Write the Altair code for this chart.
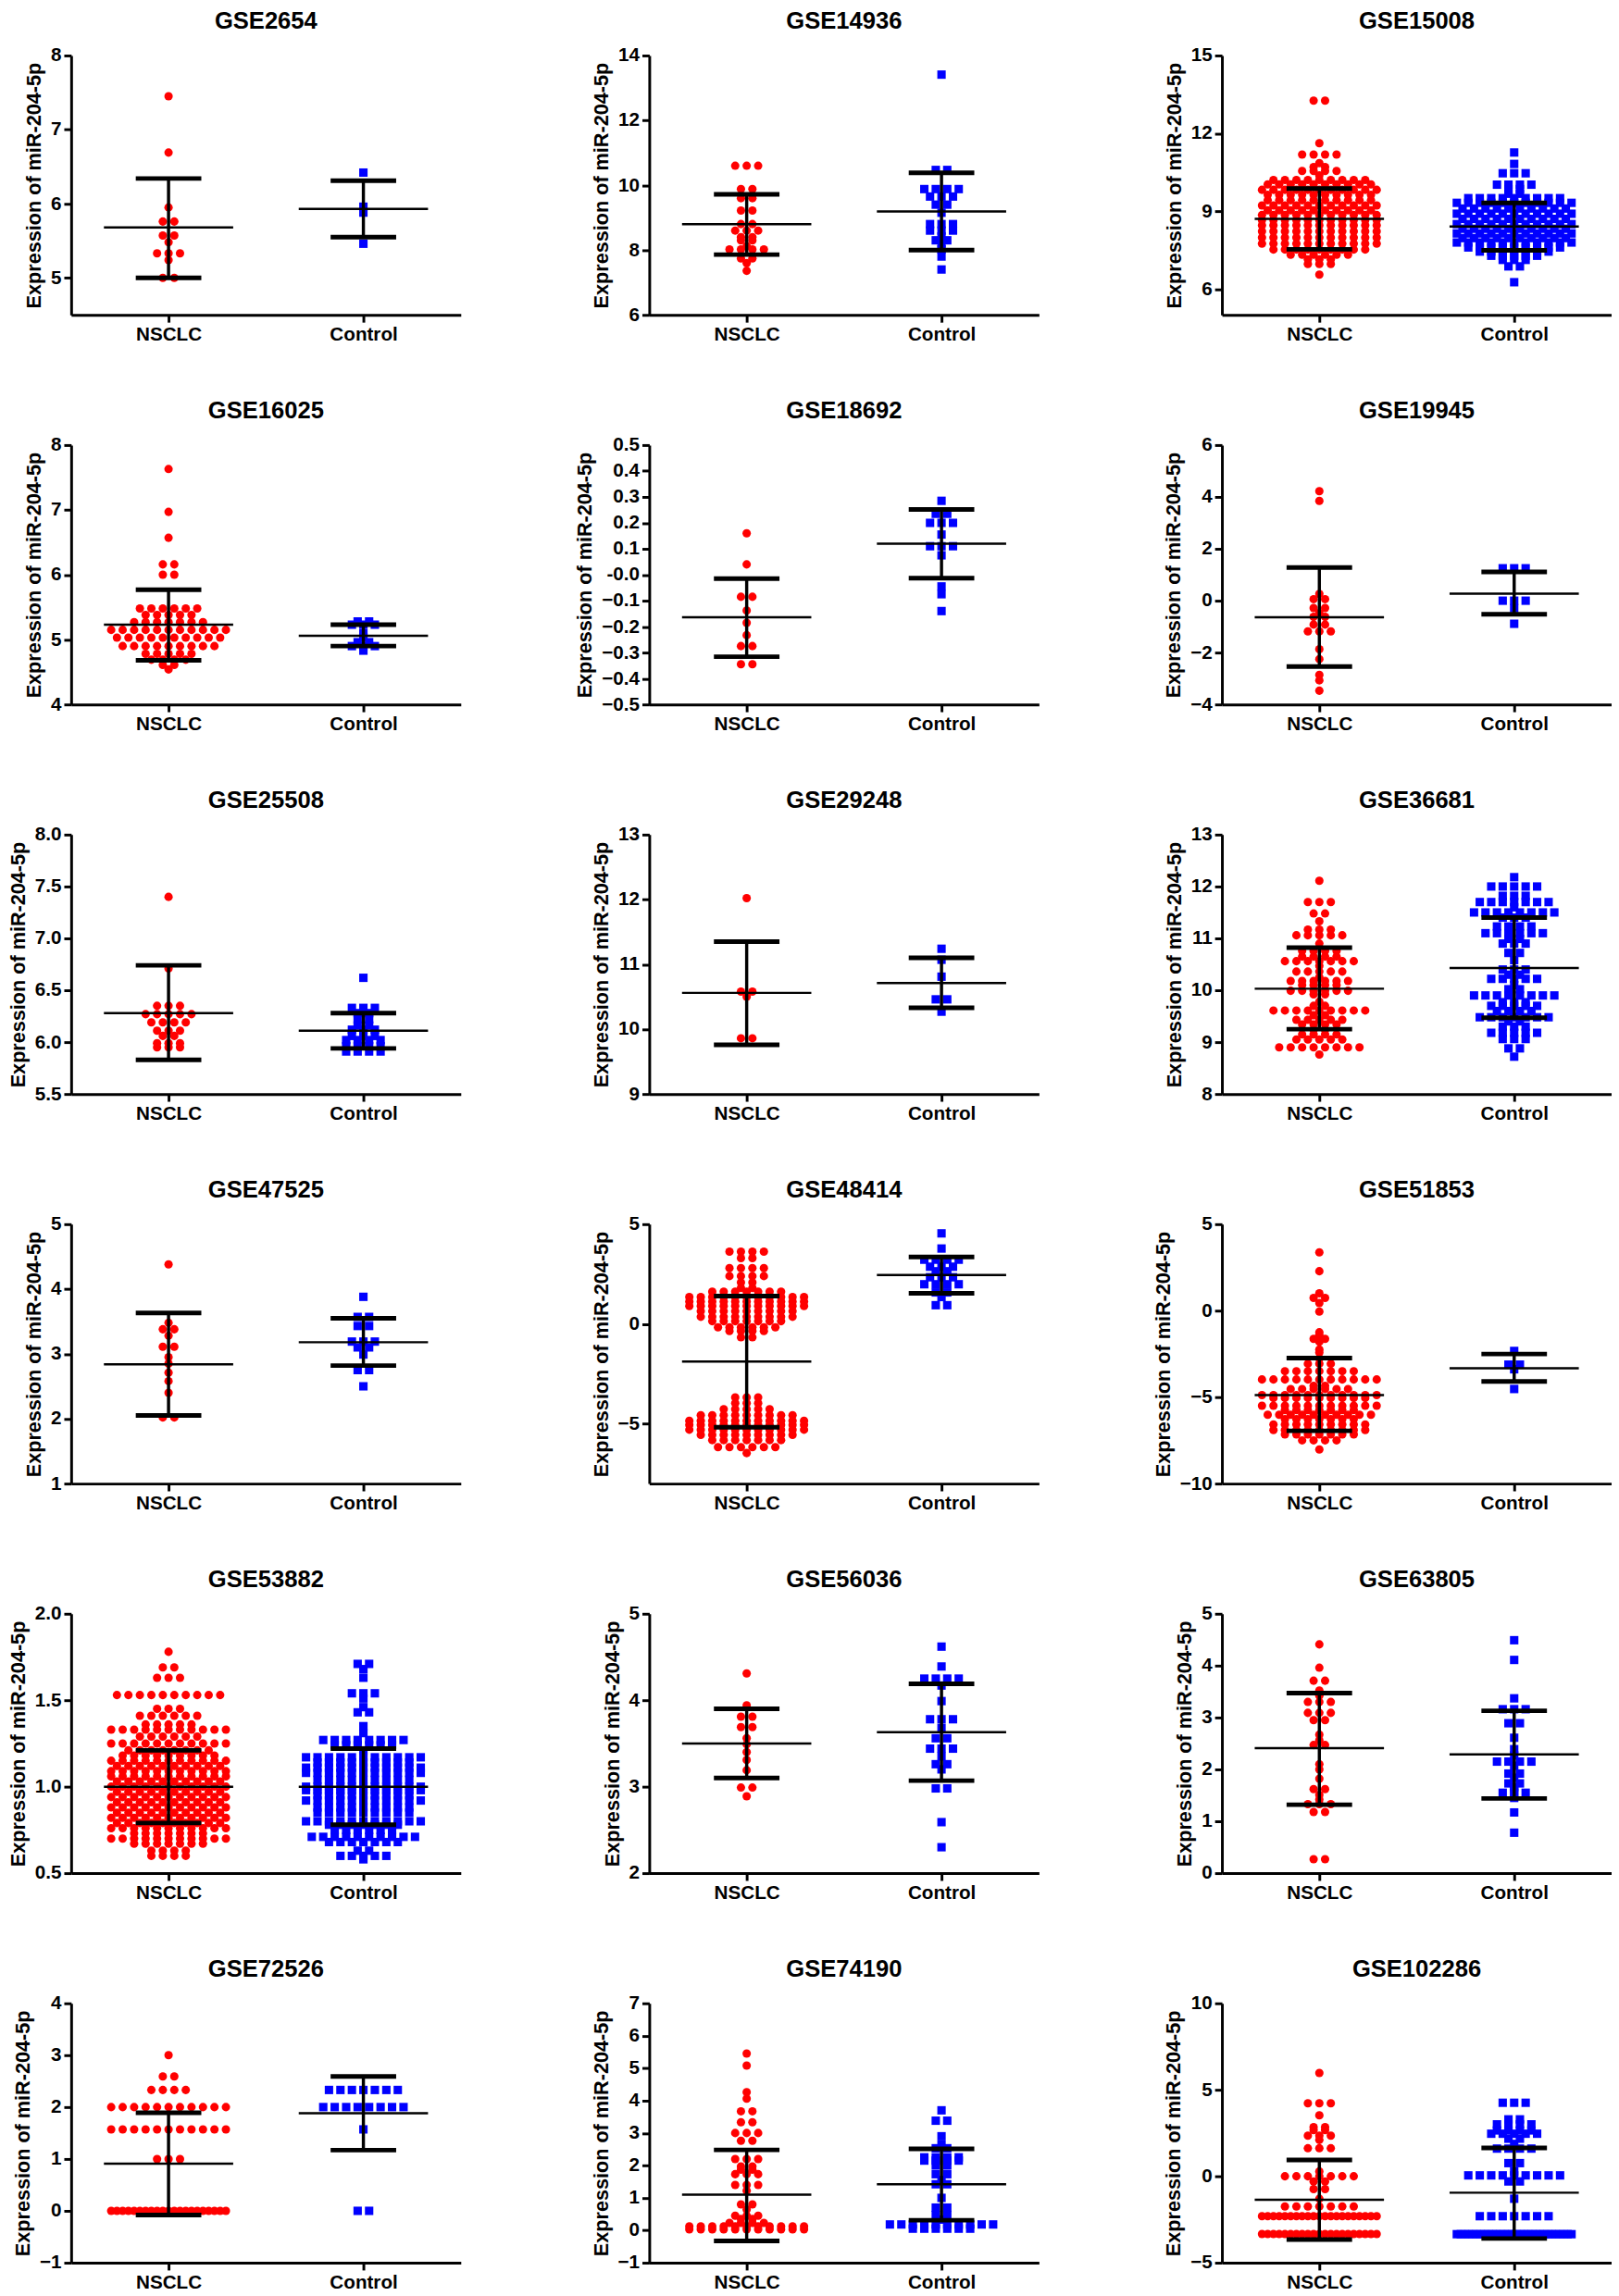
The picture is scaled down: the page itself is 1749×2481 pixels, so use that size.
import altair as alt
import pandas as pd

FONT = "Liberation Sans, Arial, Helvetica, sans-serif"
GROUPS = ["NSCLC", "Control"]
COLORS = ["#ff0000", "#0000ff"]
SHAPES = ["circle", "square"]
Y_TITLE = "Expression of miR-204-5p"

DATASETS = ["GSE2654", "GSE14936", "GSE15008", "GSE16025", "GSE18692", "GSE19945",
            "GSE25508", "GSE29248", "GSE36681", "GSE47525", "GSE48414", "GSE51853",
            "GSE53882", "GSE56036", "GSE63805", "GSE72526", "GSE74190", "GSE102286"]

# ---- sample values: each level (row of the dot plot) and how many samples sit at it ----
GSE2654_NSCLC_VAL = [7.45, 6.69, 5.95, 5.76, 5.57, 5.48, 5.33, 5.24, 5.0]
GSE2654_NSCLC_N = [1, 1, 1, 2, 2, 1, 3, 1, 2]
GSE2654_CTRL_VAL = [6.42, 5.96, 5.88, 5.46]
GSE2654_CTRL_N = [1, 1, 1, 1]

GSE14936_NSCLC_VAL = [10.6, 9.88, 9.6, 9.22, 8.8, 8.6, 8.4, 8.3, 8.12, 8.02, 7.74, 7.6, 7.36]
GSE14936_NSCLC_N = [3, 2, 2, 2, 2, 3, 2, 2, 1, 4, 2, 1, 1]
GSE14936_CTRL_VAL = [13.41, 10.47, 9.88, 9.65, 9.4, 9.15, 8.8, 8.6, 8.42, 8.3, 8.2, 8.02, 7.8, 7.4]
GSE14936_CTRL_N = [1, 2, 4, 3, 2, 1, 3, 3, 1, 2, 1, 1, 1, 1]

GSE15008_NSCLC_VAL = [13.26, 11.62, 11.18, 10.85, 10.7, 10.55, 10.38, 10.2, 10.03, 9.82, 9.63, 9.42,
                      9.22, 9.03, 8.85, 8.66, 8.45, 8.22, 7.98, 7.75, 7.52, 7.32, 7.14, 6.96, 6.55]
GSE15008_NSCLC_N = [2, 1, 4, 1, 2, 4, 1, 9, 10, 11, 10, 10, 11, 10, 11, 11, 11, 11, 11, 11, 9, 6, 3, 3, 1]
GSE15008_CTRL_VAL = [11.26, 10.82, 10.46, 10.02, 9.85, 9.67, 9.5, 9.32, 9.1, 8.9, 8.7, 8.5, 8.32, 8.14,
                     7.96, 7.79, 7.6, 7.44, 7.28, 7.12, 6.87, 6.26]
GSE15008_CTRL_N = [1, 1, 3, 4, 2, 2, 9, 11, 10, 11, 10, 11, 10, 11, 10, 11, 9, 7, 5, 3, 2, 1]

GSE16025_NSCLC_VAL = [7.63, 6.97, 6.57, 6.16, 6.0, 5.48, 5.38, 5.27, 5.15, 5.03, 4.9, 4.78, 4.69, 4.61, 4.54]
GSE16025_NSCLC_N = [1, 1, 1, 2, 2, 6, 5, 7, 11, 10, 9, 5, 4, 2, 1]
GSE16025_CTRL_VAL = [5.28, 5.23, 5.1, 5.04, 4.96, 4.9, 4.83]
GSE16025_CTRL_N = [2, 3, 1, 1, 2, 3, 1]

GSE18692_NSCLC_VAL = [0.16, 0.04, -0.085, -0.138, -0.185, -0.233, -0.275, -0.345]
GSE18692_NSCLC_N = [1, 1, 2, 1, 1, 1, 2, 2]
GSE18692_CTRL_VAL = [0.285, 0.235, 0.2, 0.155, 0.11, 0.075, -0.045, -0.075, -0.14]
GSE18692_CTRL_N = [1, 2, 3, 1, 3, 1, 1, 1, 1]

GSE19945_NSCLC_VAL = [4.22, 3.85, 0.26, 0.06, -0.28, -0.48, -0.62, -0.92, -1.18, -1.87, -2.25, -2.86, -3.07, -3.47]
GSE19945_NSCLC_N = [1, 1, 1, 2, 2, 1, 2, 2, 3, 1, 1, 1, 1, 1]
GSE19945_CTRL_VAL = [1.25, 0.0, -0.29, -0.89]
GSE19945_CTRL_N = [3, 3, 1, 1]

GSE25508_NSCLC_VAL = [7.4, 6.71, 6.35, 6.27, 6.19, 6.11, 6.06, 5.99, 5.95]
GSE25508_NSCLC_N = [1, 1, 3, 5, 4, 3, 2, 3, 3]
GSE25508_CTRL_VAL = [6.62, 6.33, 6.28, 6.22, 6.16, 6.12, 6.06, 6.02, 5.96, 5.91]
GSE25508_CTRL_N = [1, 3, 2, 2, 2, 3, 3, 4, 4, 4]

GSE29248_NSCLC_VAL = [12.02, 10.58, 10.5, 9.86]
GSE29248_NSCLC_N = [1, 2, 1, 2]
GSE29248_CTRL_VAL = [11.24, 11.07, 10.81, 10.46, 10.27]
GSE29248_CTRL_N = [1, 1, 1, 2, 1]

GSE36681_NSCLC_VAL = [12.11, 11.7, 11.48, 11.33, 11.17, 11.06, 10.9, 10.76, 10.65, 10.56, 10.47, 10.36,
                      10.25, 10.18, 10.1, 9.99, 9.92, 9.78, 9.7, 9.61, 9.52, 9.43, 9.34, 9.24, 9.15,
                      9.05, 8.9, 8.76]
GSE36681_NSCLC_N = [1, 3, 2, 1, 3, 5, 1, 4, 4, 7, 1, 5, 1, 6, 4, 6, 2, 1, 2, 9, 2, 5, 4, 2, 4, 5, 8, 1]
GSE36681_CTRL_VAL = [12.18, 12.0, 11.82, 11.7, 11.6, 11.5, 11.4, 11.23, 11.1, 10.99, 10.9, 10.72, 10.58,
                     10.4, 10.3, 10.22, 10.1, 10.02, 9.9, 9.77, 9.7, 9.6, 9.48, 9.4, 9.3, 9.18, 9.06,
                     8.88, 8.72]
GSE36681_CTRL_N = [1, 5, 3, 7, 1, 8, 3, 4, 6, 2, 3, 2, 1, 3, 2, 5, 1, 2, 8, 3, 5, 4, 7, 2, 3, 5, 3, 2, 1]

GSE47525_NSCLC_VAL = [4.38, 3.48, 3.38, 3.28, 3.11, 2.95, 2.85, 2.71, 2.58, 2.4, 2.02]
GSE47525_NSCLC_N = [1, 1, 2, 1, 2, 1, 1, 1, 1, 1, 2]
GSE47525_CTRL_VAL = [3.88, 3.57, 3.43, 3.19, 3.1, 2.99, 2.75, 2.5]
GSE47525_CTRL_N = [1, 2, 2, 3, 2, 1, 2, 1]

GSE48414_NSCLC_VAL = [3.62, 3.3, 2.8, 2.4, 2.08, 1.8, 1.62, 1.35, 1.12, 0.9, 0.64, 0.36, 0.14, -0.17,
                      -0.35, -0.67, -3.68, -3.97, -4.27, -4.57, -4.85, -5.06, -5.3, -5.56, -5.82,
                      -6.17, -6.47]
GSE48414_NSCLC_N = [4, 2, 4, 4, 2, 2, 7, 11, 11, 11, 9, 9, 7, 6, 4, 2, 3, 3, 5, 9, 11, 11, 11, 9, 7, 6, 1]
GSE48414_CTRL_VAL = [4.54, 3.78, 3.22, 2.87, 2.64, 2.34, 1.99, 1.58, 1.35, 0.94]
GSE48414_CTRL_N = [1, 1, 4, 3, 2, 3, 4, 2, 1, 2]

GSE51853_NSCLC_VAL = [3.37, 2.28, 1.0, 0.74, 0.44, -0.05, -1.25, -1.4, -1.63, -1.8, -2.25, -2.42, -2.77,
                      -3.07, -3.5, -3.98, -4.35, -4.53, -4.88, -5.05, -5.5, -5.75, -6.02, -6.28,
                      -6.58, -6.9, -7.16, -7.5, -8.03]
GSE51853_NSCLC_N = [1, 1, 1, 2, 1, 1, 1, 1, 2, 1, 1, 1, 1, 3, 7, 11, 2, 6, 11, 9, 11, 7, 10, 7, 9, 9, 7, 4, 1]
GSE51853_CTRL_VAL = [-2.33, -3.12, -3.39, -4.53]
GSE51853_CTRL_N = [1, 2, 1, 1]

GSE53882_NSCLC_VAL = [1.78, 1.69, 1.63, 1.53, 1.45, 1.41, 1.36, 1.33, 1.29, 1.25, 1.21, 1.18, 1.15, 1.12,
                      1.09, 1.06, 1.03, 1.0, 0.97, 0.94, 0.91, 0.88, 0.85, 0.82, 0.79, 0.76, 0.73,
                      0.7, 0.67, 0.63, 0.6]
GSE53882_NSCLC_N = [1, 2, 3, 10, 3, 6, 5, 11, 6, 11, 8, 9, 11, 10, 11, 11, 10, 11, 10, 11, 10, 11, 10,
                    11, 10, 11, 7, 11, 7, 4, 4]
GSE53882_CTRL_VAL = [1.71, 1.68, 1.63, 1.54, 1.51, 1.46, 1.43, 1.35, 1.31, 1.27, 1.24, 1.21, 1.17, 1.14,
                     1.11, 1.08, 1.04, 1.0, 0.98, 0.95, 0.92, 0.88, 0.85, 0.8, 0.78, 0.75, 0.71, 0.68,
                     0.63, 0.6, 0.58]
GSE53882_CTRL_N = [2, 1, 1, 3, 1, 1, 2, 1, 1, 8, 6, 1, 11, 9, 11, 11, 9, 11, 11, 9, 11, 9, 9, 11, 7, 6,
                   10, 7, 2, 5, 1]

GSE56036_NSCLC_VAL = [4.31, 3.94, 3.81, 3.69, 3.56, 3.49, 3.4, 3.31, 3.19, 2.99, 2.89]
GSE56036_NSCLC_N = [1, 1, 2, 2, 1, 1, 1, 1, 1, 2, 1]
GSE56036_CTRL_VAL = [4.62, 4.39, 4.25, 4.17, 3.99, 3.78, 3.68, 3.56, 3.44, 3.35, 3.26, 3.2, 2.98, 2.59, 2.3]
GSE56036_CTRL_N = [1, 1, 4, 1, 1, 3, 1, 2, 3, 1, 2, 1, 2, 1, 1]

GSE63805_NSCLC_VAL = [4.41, 3.96, 3.71, 3.52, 3.42, 3.3, 3.09, 2.95, 2.67, 2.56, 2.47, 2.1, 2.0, 1.82,
                      1.62, 1.51, 1.42, 1.33, 1.18, 0.27]
GSE63805_NSCLC_N = [1, 1, 2, 1, 1, 3, 3, 2, 1, 1, 2, 1, 1, 1, 2, 1, 1, 3, 2, 2]
GSE63805_CTRL_VAL = [4.49, 4.11, 3.37, 3.16, 2.89, 2.61, 2.39, 2.27, 2.15, 2.07, 1.92, 1.84, 1.73, 1.66,
                     1.61, 1.55, 1.45, 1.17, 0.78]
GSE63805_CTRL_N = [1, 1, 1, 3, 2, 1, 1, 1, 4, 1, 2, 1, 2, 1, 1, 3, 1, 1, 1]

GSE72526_NSCLC_VAL = [3.0, 2.59, 2.33, 2.0, 1.57, 1.0, 0.0]
GSE72526_NSCLC_N = [1, 2, 4, 11, 11, 3, 21]
GSE72526_CTRL_VAL = [2.33, 2.0, 1.57, 0.0]
GSE72526_CTRL_N = [7, 8, 1, 2]

GSE74190_NSCLC_VAL = [5.45, 5.08, 4.26, 4.06, 3.67, 3.33, 3.0, 2.76, 2.2, 1.97, 1.87, 1.73, 1.4, 1.22,
                      0.8, 0.64, 0.45, 0.35, 0.23, 0.12, 0.03]
GSE74190_NSCLC_N = [1, 1, 1, 1, 2, 2, 3, 2, 3, 2, 2, 3, 3, 1, 2, 1, 3, 2, 4, 11, 11]
GSE74190_CTRL_VAL = [3.7, 3.38, 2.9, 2.64, 2.53, 2.25, 2.15, 2.0, 1.73, 1.55, 1.42, 1.0, 0.7, 0.47, 0.33,
                     0.18, 0.05]
GSE74190_CTRL_N = [1, 2, 1, 1, 2, 4, 4, 2, 2, 1, 2, 1, 2, 2, 1, 10, 6]

GSE102286_NSCLC_VAL = [5.97, 4.22, 3.52, 2.84, 2.67, 2.35, 2.1, 1.62, 0.28, 0.0, -0.3, -0.74, -1.3,
                       -1.75, -2.31, -3.34]
GSE102286_NSCLC_N = [1, 3, 1, 2, 2, 3, 1, 3, 1, 7, 2, 2, 1, 7, 21, 21]
GSE102286_CTRL_VAL = [4.25, 3.29, 3.0, 2.65, 2.46, 2.17, 1.87, 1.6, 0.76, 0.28, 0.05, -0.3, -1.3, -2.31, -3.35]
GSE102286_CTRL_N = [3, 2, 4, 4, 5, 2, 1, 4, 2, 1, 9, 2, 1, 7, 30]

# ---- mean and mean -/+ SD ----
NSCLC_MEAN = [5.68, 8.8, 8.7, 5.23, -0.164, -0.64, 6.28, 10.56, 10.03, 2.84, -1.88, -4.88, 1.0, 3.5, 2.41, 0.91, 1.1, -1.36]
NSCLC_SD_LOW = [5.0, 7.86, 7.53, 4.68, -0.316, -2.54, 5.83, 9.76, 9.25, 2.05, -5.18, -6.95, 0.79, 3.1, 1.32, -0.08, -0.33, -3.66]
NSCLC_SD_HIGH = [6.34, 9.72, 9.87, 5.77, -0.015, 1.28, 6.74, 11.35, 10.82, 3.63, 1.4, -2.74, 1.21, 3.9, 3.47, 1.89, 2.48, 0.94]
CONTROL_MEAN = [5.93, 9.19, 8.41, 5.06, 0.12, 0.27, 6.11, 10.71, 10.43, 3.18, 2.45, -3.33, 1.0, 3.63, 2.29, 1.88, 1.42, -0.95]
CONTROL_SD_LOW = [5.55, 8.0, 7.49, 4.9, -0.013, -0.52, 5.94, 10.33, 9.47, 2.82, 1.54, -4.09, 0.78, 3.07, 1.44, 1.17, 0.31, -3.6]
CONTROL_SD_HIGH = [6.31, 10.38, 9.32, 5.23, 0.252, 1.11, 6.28, 11.1, 11.4, 3.55, 3.36, -2.51, 1.22, 4.19, 3.13, 2.59, 2.51, 1.64]

# ---- y axes ----
Y_MIN = [4.5, 6, 5, 4, -0.5, -4, 5.5, 9, 8, 1, -8, -10, 0.5, 2, 0, -1, -1, -5]
Y_MAX = [8, 14, 15, 8, 0.5, 6, 8.0, 13, 13, 5, 5, 5, 2.0, 5, 5, 4, 7, 10]
Y_TICKS = [
    [5, 6, 7, 8], [6, 8, 10, 12, 14], [6, 9, 12, 15], [4, 5, 6, 7, 8],
    [-0.5, -0.4, -0.3, -0.2, -0.1, 0.0, 0.1, 0.2, 0.3, 0.4, 0.5], [-4, -2, 0, 2, 4, 6],
    [5.5, 6.0, 6.5, 7.0, 7.5, 8.0], [9, 10, 11, 12, 13], [8, 9, 10, 11, 12, 13],
    [1, 2, 3, 4, 5], [-5, 0, 5], [-10, -5, 0, 5],
    [0.5, 1.0, 1.5, 2.0], [2, 3, 4, 5], [0, 1, 2, 3, 4, 5],
    [-1, 0, 1, 2, 3, 4], [-1, 0, 1, 2, 3, 4, 5, 6, 7], [-5, 0, 5, 10],
]

SERIES = {}
for _name in DATASETS:
    g = globals()
    SERIES[_name] = (g[_name + "_NSCLC_VAL"], g[_name + "_NSCLC_N"],
                     g[_name + "_CTRL_VAL"], g[_name + "_CTRL_N"])

# ---- layout ----
W, H = 428, 285
PX_PER_UNIT = W / 2.0
SLOT = 12.6 / PX_PER_UNIT          # horizontal distance between neighbouring dots
MAX_SLOTS = 11                     # widest row before dots get squeezed
MEAN_HALF = 71.0 / PX_PER_UNIT
CAP_HALF = 36.0 / PX_PER_UNIT
PT_SIZE = 85


def spread(vals, cnts, gi):
    rows = []
    for v, c in zip(vals, cnts):
        step = SLOT if c <= MAX_SLOTS else SLOT * (MAX_SLOTS - 1) / (c - 1)
        for i in range(c):
            rows.append({"x": gi + (i - (c - 1) / 2.0) * step, "y": v, "group": GROUPS[gi]})
    return rows


def panel(k):
    name = DATASETS[k]
    nv, nn, cv, cn = SERIES[name]
    pts = pd.DataFrame(spread(nv, nn, 0) + spread(cv, cn, 1))
    stats = pd.DataFrame({
        "gx": [0, 1],
        "mean": [NSCLC_MEAN[k], CONTROL_MEAN[k]],
        "lo": [NSCLC_SD_LOW[k], CONTROL_SD_LOW[k]],
        "hi": [NSCLC_SD_HIGH[k], CONTROL_SD_HIGH[k]],
    })
    stats["m1"] = stats["gx"] - MEAN_HALF
    stats["m2"] = stats["gx"] + MEAN_HALF
    stats["c1"] = stats["gx"] - CAP_HALF
    stats["c2"] = stats["gx"] + CAP_HALF

    ticks = Y_TICKS[k]
    if name == "GSE18692":
        label_expr = "datum.value == 0 ? '-0.0' : format(datum.value, '.1f')"
    elif any(abs(t - round(t)) > 1e-9 for t in ticks) or name == "GSE25508":
        label_expr = "format(datum.value, '.1f')"
    else:
        label_expr = "format(datum.value, 'd')"

    xs = alt.Scale(domain=[-0.5, 1.5], nice=False, zero=False)
    ys = alt.Scale(domain=[Y_MIN[k], Y_MAX[k]], nice=False, zero=False)
    xaxis = alt.Axis(values=[0, 1], labelExpr="datum.value == 0 ? 'NSCLC' : 'Control'",
                     title=None, grid=False, labelFlush=False)
    yaxis = alt.Axis(values=ticks, labelExpr=label_expr, title=Y_TITLE, grid=False)

    points = alt.Chart(pts).mark_point(filled=True, opacity=1, size=PT_SIZE).encode(
        x=alt.X("x:Q", scale=xs, axis=xaxis),
        y=alt.Y("y:Q", scale=ys, axis=yaxis),
        color=alt.Color("group:N", scale=alt.Scale(domain=GROUPS, range=COLORS), legend=None),
        shape=alt.Shape("group:N", scale=alt.Scale(domain=GROUPS, range=SHAPES), legend=None),
    )
    base = alt.Chart(stats)
    mean = base.mark_rule(color="black", strokeWidth=2.5).encode(
        x=alt.X("m1:Q", scale=xs, axis=xaxis), x2="m2:Q",
        y=alt.Y("mean:Q", scale=ys, axis=yaxis))
    sd = base.mark_rule(color="black", strokeWidth=3.5).encode(
        x=alt.X("gx:Q", scale=xs, axis=xaxis),
        y=alt.Y("lo:Q", scale=ys, axis=yaxis), y2="hi:Q")
    cap_lo = base.mark_rule(color="black", strokeWidth=5).encode(
        x=alt.X("c1:Q", scale=xs, axis=xaxis), x2="c2:Q",
        y=alt.Y("lo:Q", scale=ys, axis=yaxis))
    cap_hi = base.mark_rule(color="black", strokeWidth=5).encode(
        x=alt.X("c1:Q", scale=xs, axis=xaxis), x2="c2:Q",
        y=alt.Y("hi:Q", scale=ys, axis=yaxis))

    return alt.layer(points, mean, sd, cap_lo, cap_hi).properties(
        width=W, height=H,
        title=alt.TitleParams(text=name, font=FONT, fontSize=26, fontWeight="bold",
                              color="black", anchor="middle", frame="group", offset=13),
    )


chart = alt.concat(*[panel(k) for k in range(len(DATASETS))], columns=3,
                   spacing={"row": 61, "column": 125}).properties(
    padding={"left": 0, "top": -18, "right": 0, "bottom": 0}
).configure_view(stroke=None).configure_axis(
    domainColor="black", domainWidth=3, tickColor="black", tickWidth=3, tickSize=8,
    labelColor="black", labelFont=FONT, labelFontSize=21, labelFontWeight="bold", labelPadding=3,
    titleColor="black", titleFont=FONT, titleFontSize=22, titleFontWeight="bold", titlePadding=6,
    grid=False,
)

chart.save("out.html", embed_options={"renderer": "svg", "actions": False})
